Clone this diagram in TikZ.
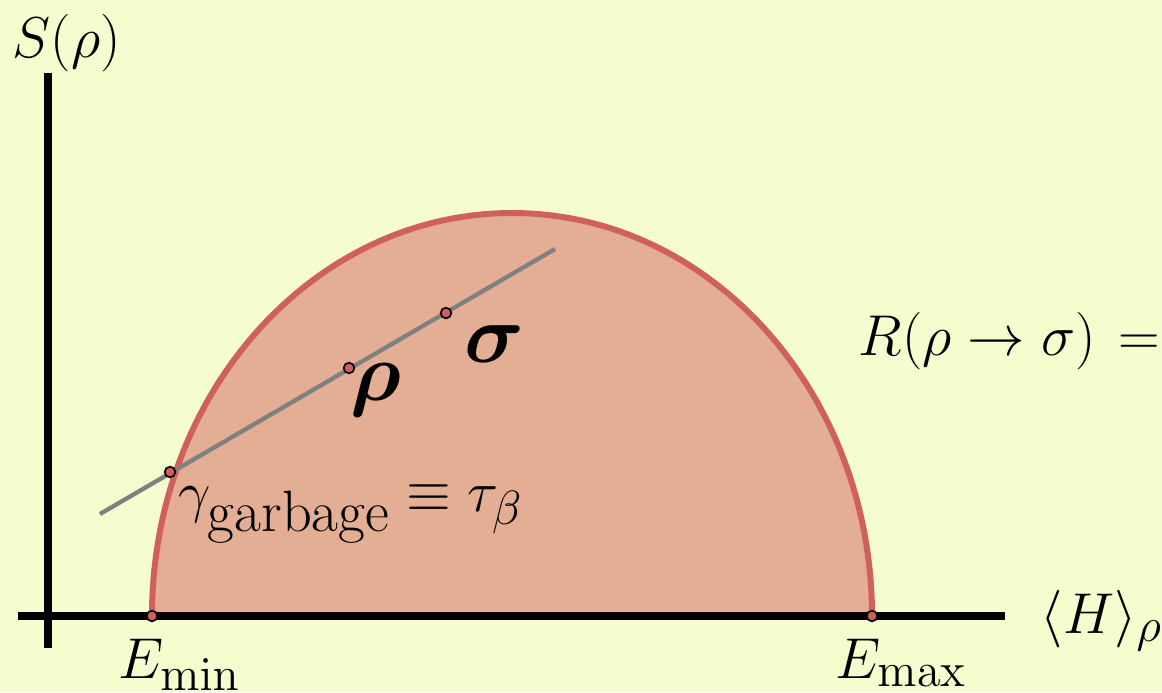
\documentclass[tikz,border=0pt]{standalone}
\usepackage{amsmath,amssymb,bm}
\usepackage{tikz}
\usetikzlibrary{positioning}
\DeclareMathSizes{18.5}{18.5}{15.5}{11}
\definecolor{bgyellow}{RGB}{245,252,205}
\definecolor{domefill}{RGB}{227,174,148}
\definecolor{domeline}{RGB}{208,96,96}
\definecolor{chordgray}{RGB}{128,128,128}
\newcommand{\subtxt}[1]{\text{\fontsize{17.5}{20}\selectfont #1}}

\begin{document}
\begin{tikzpicture}[x=0.3pt,y=-0.3pt,
  lbl/.style={inner sep=0pt,font=\fontsize{18.5}{21}\selectfont},
  biglbl/.style={inner sep=0pt,font=\fontsize{25}{30}\selectfont},
  dot/.style={circle,draw=black,fill=domeline,line width=0.5pt,
              minimum size=3.2pt,inner sep=0pt},
  axisline/.style={line width=2.4pt},
  chord/.style={chordgray,line width=1.3pt}
]
% background and frame
\fill[bgyellow] (0,0) rectangle (1162,692);
\useasboundingbox (0,0) rectangle (1162,692);

% the dome of states
\fill[domefill] (152,616) arc[start angle=180,end angle=360,x radius=360,y radius=403] -- cycle;
\draw[domeline,line width=1.8pt] (152,616) arc[start angle=180,end angle=360,x radius=360,y radius=403];

% axes
\coordinate (yb) at (48,648);
\coordinate (yt) at (48,73);
\coordinate (xl) at (18,616);
\coordinate (xr) at (1005,616);
\draw[axisline] (yb) -- (yt);
\draw[axisline] (xl) -- (xr);

% line through rho and sigma
\coordinate (lo) at (100,514);
\coordinate (hi) at (555,249);
\draw[chord] (lo) -- (hi);

\node[dot] (gam)  at (170,472) {};
\node[dot] (rho)  at (349,368) {};
\node[dot] (sig)  at (446,313) {};
\node[dot] (emin) at (152,616) {};
\node[dot] (emax) at (872,616) {};

% labels
\node[lbl,anchor=base west] (slbl) at (12,57) {$S(\rho)$};
\node[lbl,anchor=base west] (hlbl) at (1040,633) {$\langle H\rangle_\rho$};
\node[lbl,anchor=base west] (rlbl) at (858,355) {$R(\rho\rightarrow\sigma)\mkern2mu=$};
\node[lbl,anchor=base west] (eminlbl) at (118,678) {$E_{\min}$};
\node[lbl,anchor=base west] (emaxlbl) at (835,678) {$E_{\max}$};
\node[lbl,anchor=base west] (gamlbl) at (178,511) {$\gamma_{\subtxt{garbage}}\equiv\tau_\beta$};
\node[biglbl,anchor=base west] (rholbl) at (350,400) {$\bm{\rho}$};
\node[biglbl,anchor=base west] (siglbl) at (464,362) {$\bm{\sigma}$};
\end{tikzpicture}
\end{document}
